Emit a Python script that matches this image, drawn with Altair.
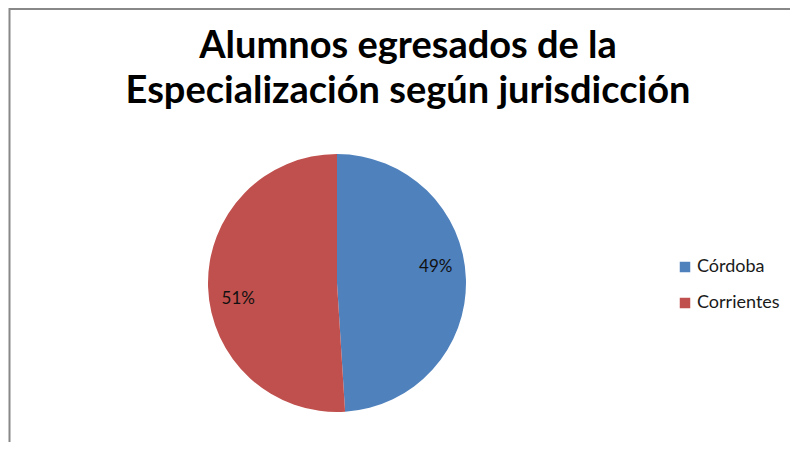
import altair as alt
import pandas as pd

categories = ["Córdoba", "Corrientes"]
shares = [49, 51]
labels = ["49%", "51%"]
colors = ["#4F81BD", "#C0504D"]
title_lines = ["Alumnos egresados de la", "Especialización según jurisdicción"]

df = pd.DataFrame({"jurisdiccion": categories, "share": shares, "label": labels, "orden": [0, 1]})

FONT = "Lato"
W, H = 782, 304
CX, CY = 329, 145

base = alt.Chart(df).encode(
    theta=alt.Theta("share:Q", stack=True),
    order=alt.Order("orden:Q"),
    x=alt.value(CX),
    y=alt.value(CY),
)

pie = base.mark_arc(radius=129).encode(
    color=alt.Color(
        "jurisdiccion:N",
        scale=alt.Scale(domain=categories, range=colors),
        sort=categories,
        legend=alt.Legend(
            title=None,
            orient="none",
            legendX=668,
            legendY=120,
            symbolType="square",
            symbolSize=110,
            symbolStrokeWidth=0,
            labelFont=FONT,
            labelFontSize=18,
            labelColor="#1a1a1a",
            rowPadding=18,
            labelOffset=3,
        ),
    )
)

text = base.mark_text(radius=100, thetaOffset=-0.125, font=FONT, fontSize=17, color="#111111").encode(
    text="label:N"
)

title = alt.Chart(pd.DataFrame({"t": [0]})).mark_text(
    font=FONT, fontSize=38, fontWeight="bold", color="#000000",
    align="center", baseline="alphabetic", lineHeight=45,
).encode(
    x=alt.value(400), y=alt.value(-80), text=alt.value(title_lines)
)

frame = alt.Chart(pd.DataFrame({"a": [0]})).mark_rect(
    fill=None, stroke="#888888", strokeWidth=2
).encode(
    x=alt.value(1.5), x2=alt.value(W + 40),
    y=alt.value(-129), y2=alt.value(H + 40),
)

chart = alt.layer(frame, title, pie, text).properties(
    width=W,
    height=H,
    autosize=alt.AutoSizeParams(type="none"),
    padding={"left": 0, "top": 130, "right": 0, "bottom": 0},
).configure(
    background="white",
    view=alt.ViewConfig(strokeWidth=0, stroke="transparent"),
)

chart.save("out.html", embed_options={"renderer": "svg", "actions": False})
